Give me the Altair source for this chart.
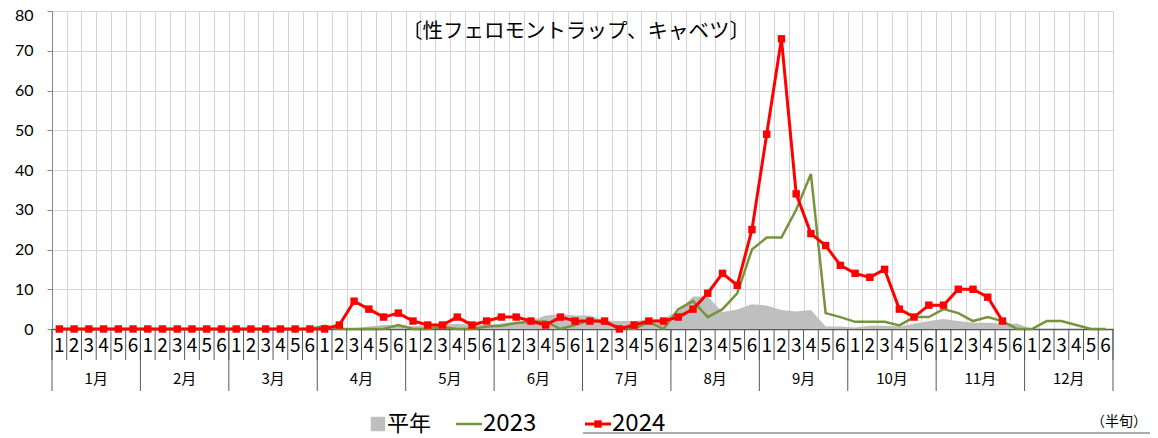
import altair as alt
import pandas as pd

# ---------------- data ----------------
month_labels = ["1月", "2月", "3月", "4月", "5月", "6月",
                "7月", "8月", "9月", "10月", "11月", "12月"]
period_labels = ["1", "2", "3", "4", "5", "6"]

avg_values = [
    0, 0, 0, 0, 0, 0,            # Jan
    0, 0, 0, 0, 0, 0,            # Feb
    0, 0, 0, 0, 0, 0,            # Mar
    0.3, 0.2, 0.2, 0.6, 1.0, 1.0,  # Apr
    0.7, 0.9, 1.2, 1.3, 1.0, 1.0,  # May
    1.4, 1.8, 2.1, 3.4, 3.7, 3.4,  # Jun
    3.4, 2.1, 2.0, 2.0, 2.3, 2.6,  # Jul
    4.5, 8.2, 8.2, 4.3, 4.9, 6.2,  # Aug
    5.9, 4.8, 4.4, 4.8, 0.6, 0.6,  # Sep
    0.4, 0.8, 0.8, 0.6, 1.3, 2.0,  # Oct
    2.5, 2.0, 1.6, 1.6, 1.3, 1.4,  # Nov
    0, 0, 0, 0, 0, 0,            # Dec
]

y2023_values = [
    0, 0, 0, 0, 0, 0,
    0, 0, 0, 0, 0, 0,
    0, 0, 0, 0, 0, 0,
    0.8, 0, 0, 0, 0, 1,
    0, 0, 0.5, 0, 0, 0.6,
    0.8, 1.5, 1.8, 1.9, 0, 1,
    2.3, 1.5, 0.5, 0, 1.8, 0,
    5, 7, 3, 5, 9, 20,
    23, 23, 30, 39, 4, 3,
    1.8, 1.8, 1.8, 0.9, 3, 3,
    5, 4, 2, 3, 2, 0,
    0, 2, 2, 1, 0, 0,
]

y2024_values = [
    0, 0, 0, 0, 0, 0,
    0, 0, 0, 0, 0, 0,
    0, 0, 0, 0, 0, 0,
    0, 1, 7, 5, 3, 4,
    2, 1, 1, 3, 1, 2,
    3, 3, 2, 1, 3, 2,
    2, 2, 0, 1, 2, 2,
    3, 5, 9, 14, 11, 25,
    49, 73, 34, 24, 21, 16,
    14, 13, 15, 5, 3, 6,
    6, 10, 10, 8, 2,
]

chart_title = "〔性フェロモントラップ、キャベツ〕"
legend_names = ["平年", "2023", "2024"]
unit_label = "（半旬）"

# ---------------- styling ----------------
W, H = 1061, 318
FONT = "Noto Sans CJK JP"
NUMFONT = "Lato"
GRAY = "#bfbfbf"
GREEN = "#77933c"
RED = "#ff0000"

n = len(avg_values)
df_avg = pd.DataFrame({"x": [i + 0.5 for i in range(n)], "v": avg_values})
df_23 = pd.DataFrame({"x": [i + 0.5 for i in range(len(y2023_values))], "v": y2023_values})
df_24 = pd.DataFrame({"x": [i + 0.5 for i in range(len(y2024_values))], "v": y2024_values})
df_per = pd.DataFrame({"x": [i + 0.5 for i in range(n)],
                       "label": [period_labels[i % 6] for i in range(n)]})
df_mon = pd.DataFrame({"x": [m * 6 + 3 for m in range(12)], "label": month_labels})
df_sep_p = pd.DataFrame({"x": list(range(0, n + 1))})
df_sep_m = pd.DataFrame({"x": list(range(0, n + 1, 6))})

xscale = alt.Scale(domain=[0, n], nice=False, zero=False)
yscale = alt.Scale(domain=[0, 80], nice=False)

x_axis = alt.Axis(values=list(range(0, n + 1)), grid=True, gridColor="#d4d4d4",
                  gridWidth=1, labels=False, ticks=False, domain=True,
                  domainColor="#595959", domainWidth=1.5, title=None)
y_axis = alt.Axis(values=list(range(0, 81, 10)), grid=True, gridColor="#d4d4d4",
                  labelFont=NUMFONT, labelFontSize=16, labelColor="#000000",
                  labelOffset={"condition": {"test": "datum.value === 80", "value": 4},
                               "value": 0},
                  tickSize=5, tickColor="#868686", domainColor="#868686",
                  labelPadding=14, title=None)

X = alt.X("x:Q", scale=xscale, axis=x_axis)
Y = alt.Y("v:Q", scale=yscale, axis=y_axis)

area = alt.Chart(df_avg).mark_area(color=GRAY, opacity=1).encode(x=X, y=Y)
line23 = alt.Chart(df_23).mark_line(color=GREEN, strokeWidth=2.5).encode(x=X, y=Y)
line24 = alt.Chart(df_24).mark_line(
    color=RED, strokeWidth=3,
    point=alt.OverlayMarkDef(shape="square", size=55, filled=True, color=RED, opacity=1)
).encode(x=X, y=Y)

per_text = alt.Chart(df_per).mark_text(font=FONT, fontSize=19, color="#000000",
                                       baseline="middle", align="center").encode(
    x=X, y=alt.value(H + 17), text="label:N")
mon_text = alt.Chart(df_mon).mark_text(font=FONT, fontSize=15, color="#000000",
                                       baseline="middle", align="center").encode(
    x=X, y=alt.value(H + 50), text="label:N")
sep_p = alt.Chart(df_sep_p).mark_rule(color="#595959", strokeWidth=1).encode(
    x=X, y=alt.value(H), y2=alt.value(H + 31))
sep_m = alt.Chart(df_sep_m).mark_rule(color="#595959", strokeWidth=1).encode(
    x=X, y=alt.value(H), y2=alt.value(H + 62))

title_txt = alt.Chart(pd.DataFrame({"t": [chart_title]})).mark_text(
    font=FONT, fontSize=20.5, color="#000000", align="center", baseline="middle").encode(
    x=alt.value(524), y=alt.value(21), text="t:N")

# ---------------- legend ----------------
LY = 413


def label(txt, px, size):
    return alt.Chart(pd.DataFrame({"t": [txt]})).mark_text(
        font=FONT, fontSize=size, color="#000000", align="left", baseline="middle").encode(
        x=alt.value(px), y=alt.value(LY), text="t:N")


leg_sq = alt.Chart(pd.DataFrame({"k": [legend_names[0]]})).mark_point(
    shape="square", filled=True, color=GRAY, size=210, opacity=1).encode(
    x=alt.value(326), y=alt.value(LY))
leg_l23 = alt.Chart(pd.DataFrame({"k": [legend_names[1]]})).mark_rule(
    color=GREEN, strokeWidth=2.5).encode(x=alt.value(404), x2=alt.value(430), y=alt.value(LY))
leg_l24 = alt.Chart(pd.DataFrame({"k": [legend_names[2]]})).mark_rule(
    color=RED, strokeWidth=3).encode(x=alt.value(533), x2=alt.value(559), y=alt.value(LY))
leg_p24 = alt.Chart(pd.DataFrame({"k": [legend_names[2]]})).mark_point(
    shape="square", filled=True, color=RED, size=55, opacity=1).encode(
    x=alt.value(546), y=alt.value(LY))
leg_t1 = label(legend_names[0], 335, 22)
leg_t2 = label(legend_names[1], 431, 24)
leg_t3 = label(legend_names[2], 560, 24)
leg_box = alt.Chart(pd.DataFrame({"k": [0]})).mark_rule(color="#595959", strokeWidth=1).encode(
    x=alt.value(531), x2=alt.value(1098), y=alt.value(422))
unit_txt = alt.Chart(pd.DataFrame({"t": [unit_label]})).mark_text(
    font=FONT, fontSize=14, color="#000000", align="right", baseline="middle").encode(
    x=alt.value(1095), y=alt.value(411), text="t:N")

chart = alt.layer(
    area, line23, line24, sep_p, sep_m, per_text, mon_text, title_txt,
    leg_sq, leg_l23, leg_l24, leg_p24, leg_t1, leg_t2, leg_t3, leg_box, unit_txt
).properties(
    width=W, height=H,
    autosize=alt.AutoSizeParams(type="none"),
    padding={"left": 44, "top": 3, "right": 37, "bottom": 109},
).configure_view(stroke=None).configure(background="#ffffff")

chart.save("out.html", embed_options={"renderer": "svg", "actions": False})
